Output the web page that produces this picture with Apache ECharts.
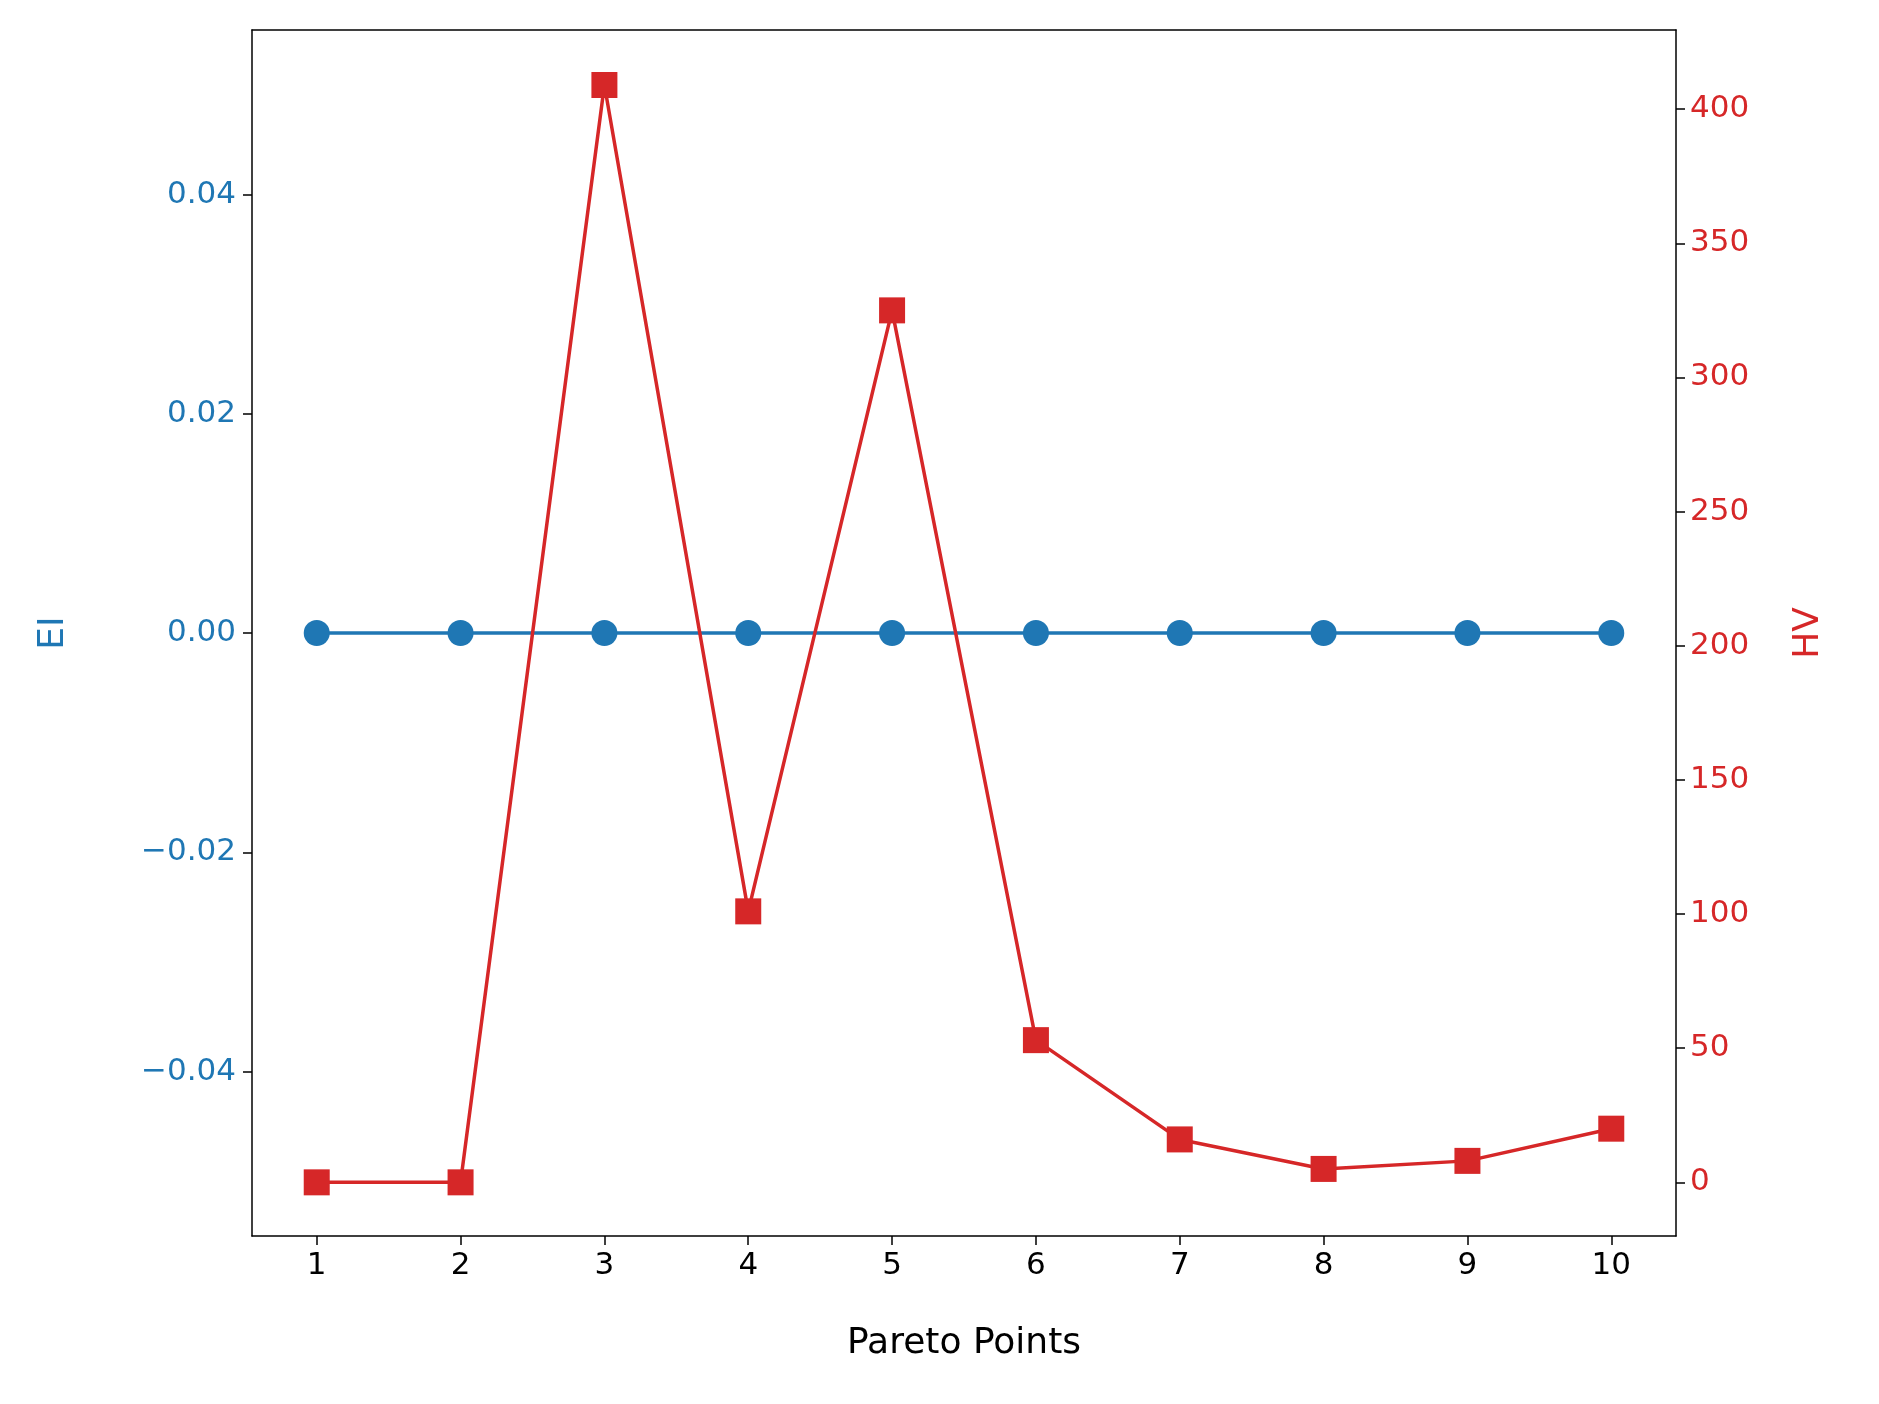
<!DOCTYPE html>
<html><head><meta charset="utf-8">
<script src="https://cdn.jsdelivr.net/npm/echarts@6/dist/echarts.min.js"></script>
<style>html,body{margin:0;background:#fff}#c{width:1879px;height:1404px}</style>
</head><body><div id="c"></div>
<script>
const xValues = [1,2,3,4,5,6,7,8,9,10];
const eiValues = [0,0,0,0,0,0,0,0,0,0];
const hvValues = [0,0,409,101,325,53,16,5,8,20];
const eiTicks = [-0.04,-0.02,0,0.02,0.04];
const hvTicks = [0,50,100,150,200,250,300,350,400];
const BLUE='#1f77b4', RED='#d62728';
const F='DejaVu Sans';
const chart = echarts.init(document.getElementById('c'));
const tick = c => ({show:true,inside:false,length:9,lineStyle:{color:c,width:1.5}});
chart.setOption({
  animation:false,
  grid:{left:252,right:203,top:30,bottom:168},
  xAxis:[{type:'value',min:0.55,max:10.45,position:'bottom',
    name:'Pareto Points',nameLocation:'middle',nameGap:90,
    nameTextStyle:{fontFamily:F,fontSize:36,color:'#000'},
    axisLine:{onZero:false,lineStyle:{color:'#000',width:1.5}},
    axisTick:Object.assign(tick('#000'),{customValues:xValues}),
    axisLabel:{customValues:xValues,fontFamily:F,fontSize:31,color:'#000',margin:14},
    splitLine:{show:false}},
   {type:'value',min:0.55,max:10.45,position:'top',
    axisLine:{onZero:false,lineStyle:{color:'#000',width:1.5}},
    axisTick:{show:false},axisLabel:{show:false},splitLine:{show:false}}],
  yAxis:[
    {type:'value',min:-0.055,max:0.055,position:'left',
     name:'EI',nameLocation:'middle',nameGap:180,nameRotate:90,
     nameTextStyle:{fontFamily:F,fontSize:36,color:BLUE},
     axisLine:{show:true,lineStyle:{color:'#000',width:1.5}},
     axisTick:Object.assign(tick('#000'),{customValues:eiTicks}),
     axisLabel:{customValues:eiTicks,fontFamily:F,fontSize:31,color:BLUE,margin:16,
       formatter:v=>(v<0?'\u2212':'')+Math.abs(v).toFixed(2)},
     splitLine:{show:false}},
    {type:'value',min:-20,max:429.5,position:'right',
     name:'HV',nameLocation:'middle',nameGap:115,nameRotate:90,
     nameTextStyle:{fontFamily:F,fontSize:36,color:RED},
     axisLine:{show:true,lineStyle:{color:'#000',width:1.5}},
     axisTick:Object.assign(tick('#000'),{customValues:hvTicks}),
     axisLabel:{customValues:hvTicks,fontFamily:F,fontSize:31,color:RED,margin:14},
     splitLine:{show:false}}
  ],
  series:[
    {type:'line',yAxisIndex:0,data:xValues.map((x,i)=>[x,eiValues[i]]),
     symbol:'circle',symbolSize:26,lineStyle:{color:BLUE,width:3.5},itemStyle:{color:BLUE}},
    {type:'line',yAxisIndex:1,data:xValues.map((x,i)=>[x,hvValues[i]]),
     symbol:'rect',symbolSize:26,lineStyle:{color:RED,width:3.5},itemStyle:{color:RED}}
  ]
});
</script></body></html>
